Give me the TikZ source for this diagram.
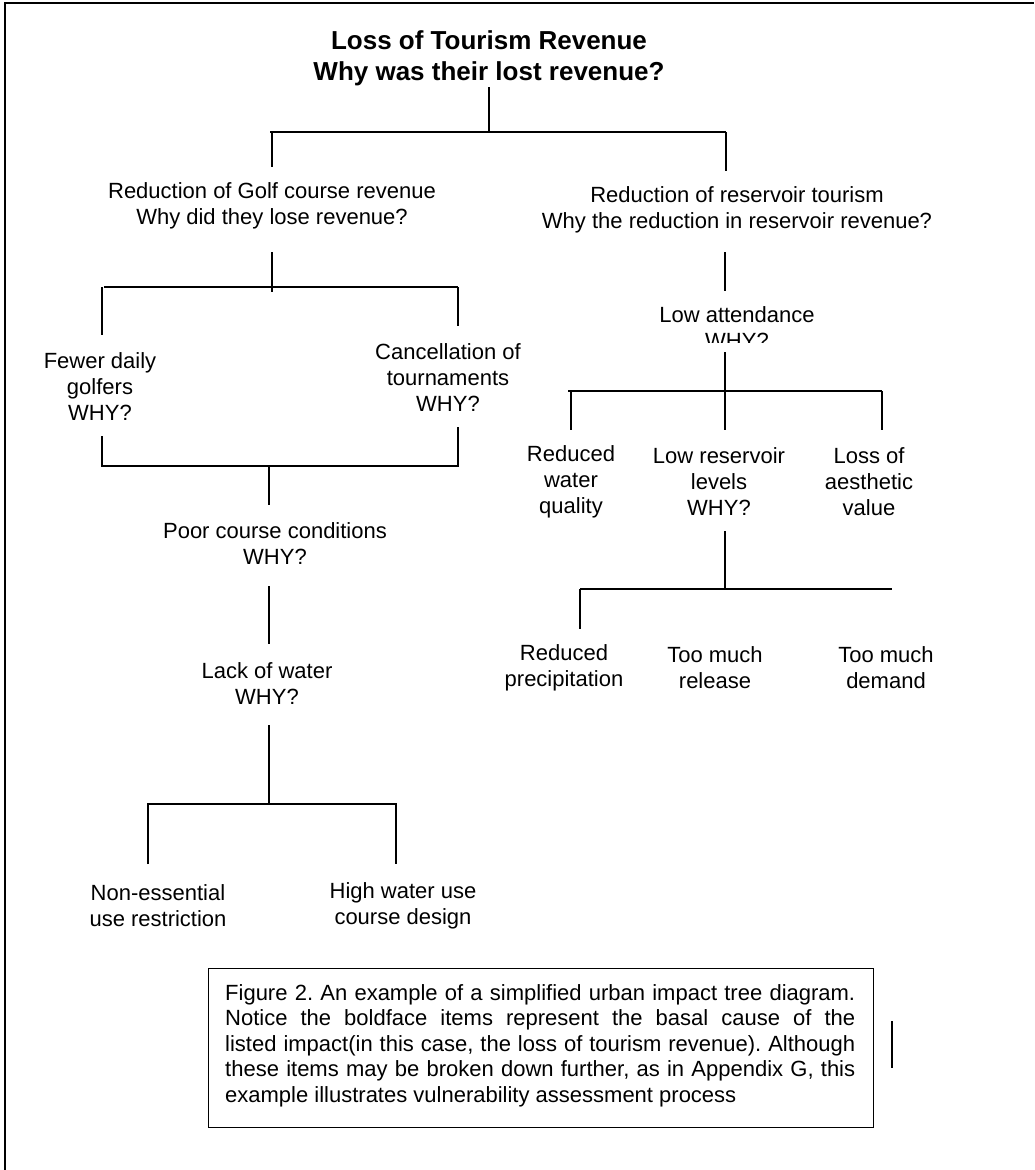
\documentclass[tikz,border=0pt]{standalone}
\usepackage{fontspec}
\setmainfont{Liberation Sans}
\begin{document}
\begin{tikzpicture}[x=1pt,y=-1pt,
  lbl/.style={align=center,inner sep=0pt,font=\fontsize{22}{26}\selectfont},
  ttl/.style={align=center,inner sep=0pt,font=\bfseries\fontsize{26}{31}\selectfont},
  conn/.style={line width=1.2pt},
  frame/.style={line width=1.8pt}]
\useasboundingbox (0,0) rectangle (1034,1170);
% outer frame (top and left edges)
\draw[frame] (5,1170) -- (5,3) -- (1034,3);

% ---------- nodes ----------
\node[ttl] (title) at (489,58) {Loss of Tourism Revenue\\Why was their lost revenue?};
\node[lbl] (golf) at (272,206) {Reduction of Golf course revenue\\Why did they lose revenue?};
\node[lbl] (resv) at (737,210) {Reduction of reservoir tourism\\Why the reduction in reservoir revenue?};
\node[lbl] (fewer) at (100,387) {Fewer daily\\golfers\\WHY?};
\node[lbl] (cancel) at (448,378) {Cancellation of\\tournaments\\WHY?};
\node[lbl] (poor) at (275,544) {Poor course conditions\\WHY?};
\node[lbl] (lack) at (267,684) {Lack of water\\WHY?};
\node[lbl] (noness) at (158,906) {Non-essential\\use restriction};
\node[lbl] (highw) at (403,906) {High water use\\course design};
\begin{scope}
  \clip (580,290) rectangle (890,342);
  \node[lbl] (lowatt) at (737,328) {Low attendance\\WHY?};
\end{scope}
\node[lbl] (redwq) at (571,482) {Reduced\\water\\quality};
\node[lbl] (lowres) at (719,482) {Low reservoir\\levels\\WHY?};
\node[lbl] (lossaes) at (869,482) {Loss of\\aesthetic\\value};
\node[lbl] (redprec) at (564,668) {Reduced\\precipitation};
\node[lbl] (release) at (715,668) {Too much\\release};
\node[lbl] (demand) at (886,668) {Too much\\demand};

% ---------- connector coordinates ----------
\coordinate (tA) at (489,87);   \coordinate (tB) at (489,132);
\coordinate (hL) at (270,132);  \coordinate (hR) at (726,132);
\coordinate (gT) at (272,132);  \coordinate (gB) at (272,167);
\coordinate (rT) at (726,132);  \coordinate (rB) at (726,171);
\coordinate (gD1) at (272,252); \coordinate (gD2) at (272,292);
\coordinate (g2L) at (104,287); \coordinate (g2R) at (458,287);
\coordinate (fT) at (102,287);  \coordinate (fB) at (102,335);
\coordinate (cT) at (458,287);  \coordinate (cB) at (458,326);
\coordinate (fU) at (102,436);  \coordinate (fJ) at (102,466);
\coordinate (cU) at (458,427);  \coordinate (cJ) at (458,466);
\coordinate (pJ) at (269,466);  \coordinate (pB) at (269,505);
\coordinate (pD1) at (269,586); \coordinate (pD2) at (269,644);
\coordinate (lD1) at (269,725); \coordinate (lD2) at (269,804);
\coordinate (nJ) at (148,804);  \coordinate (nB) at (148,864);
\coordinate (wJ) at (396,804);  \coordinate (wB) at (396,864);
\coordinate (rD1) at (725,252); \coordinate (rD2) at (725,291);
\coordinate (aD1) at (725,352); \coordinate (aD2) at (725,391);
\coordinate (a3L) at (568,391); \coordinate (a3R) at (882,391);
\coordinate (qJ) at (571,391);  \coordinate (qB) at (571,430);
\coordinate (vB) at (725,430);
\coordinate (eJ) at (882,391);  \coordinate (eB) at (882,430);
\coordinate (vD1) at (725,531); \coordinate (vD2) at (725,589);
\coordinate (b3L) at (580,589); \coordinate (b3R) at (892,589);
\coordinate (pcB) at (580,629);

% ---------- connectors ----------
\draw[conn] (tA) -- (tB);
\draw[conn] (hL) -- (hR);
\draw[conn] (gT) -- (gB);
\draw[conn] (rT) -- (rB);
\draw[conn] (gD1) -- (gD2);
\draw[conn] (g2L) -- (g2R);
\draw[conn] (fT) -- (fB);
\draw[conn] (cT) -- (cB);
\draw[conn] (fU) -- (fJ) -- (cJ) -- (cU);
\draw[conn] (pJ) -- (pB);
\draw[conn] (pD1) -- (pD2);
\draw[conn] (lD1) -- (lD2);
\draw[conn] (nB) -- (nJ) -- (wJ) -- (wB);
\draw[conn] (rD1) -- (rD2);
\draw[conn] (aD1) -- (aD2);
\draw[conn] (a3L) -- (a3R);
\draw[conn] (qJ) -- (qB);
\draw[conn] (aD2) -- (vB);
\draw[conn] (eJ) -- (eB);
\draw[conn] (vD1) -- (vD2);
\draw[conn] (b3L) -- (b3R);
\draw[conn] (b3L) -- (pcB);

% ---------- caption ----------
\node[draw,line width=1.4pt,minimum width=665,minimum height=159,anchor=north west,inner sep=0pt] (capbox) at (208,968) {};
\node[anchor=north west,inner sep=0pt,text width=630pt,align=justify,
      font=\fontsize{22}{25.5}\selectfont\frenchspacing] (caption) at (225,984)
  {Figure 2. An example of a simplified urban impact tree diagram.\linebreak
   Notice the boldface items represent the basal cause of the\linebreak
   listed impact(in this case, the loss of tourism revenue). Although\linebreak
   these items may be broken down further, as in Appendix G, this\linebreak
   example illustrates vulnerability assessment process};
\coordinate (sT) at (892,1021); \coordinate (sB) at (892,1068);
\draw[conn] (sT) -- (sB);
\end{tikzpicture}
\end{document}
